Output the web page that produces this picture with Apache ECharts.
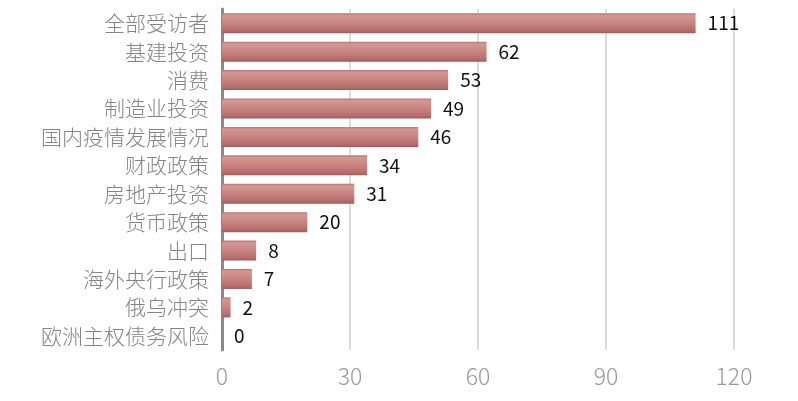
<!DOCTYPE html>
<html>
<head>
<meta charset="utf-8">
<script src="https://cdn.jsdelivr.net/npm/echarts@6/dist/echarts.min.js"></script>
<style>
  html, body { margin: 0; padding: 0; background: #fff; }
  #chart { width: 798px; height: 401px; }
</style>
</head>
<body>
<div id="chart"></div>
<script>
// 类别（从上到下）
var categories = ['全部受访者', '基建投资', '消费', '制造业投资', '国内疫情发展情况', '财政政策',
  '房地产投资', '货币政策', '出口', '海外央行政策', '俄乌冲突', '欧洲主权债务风险']
var values = [111, 62, 53, 49, 46, 34, 31, 20, 8, 7, 2, 0]
var xTicks = [0, 30, 60, 90, 120]

var font = '"Noto Sans CJK SC", "Noto Sans", sans-serif'
var myChart = echarts.init(document.getElementById('chart'))

// 木纹样的红色渐变（上下边缘略深）
var barColor = new echarts.graphic.LinearGradient(0, 0, 0, 1, [
  { offset: 0, color: '#b87472' },
  { offset: 0.12, color: '#d39894' },
  { offset: 0.5, color: '#c88380' },
  { offset: 0.88, color: '#b56c6a' },
  { offset: 1, color: '#9e5a59' }
])

myChart.setOption({
  animation: false,
  grid: { left: 222, right: 64, top: 9, bottom: 51, containLabel: false },
  xAxis: {
    type: 'value',
    min: xTicks[0],
    max: xTicks[xTicks.length - 1],
    interval: 30,
    axisLine: { show: false },
    axisTick: { show: false },
    splitLine: { lineStyle: { color: '#d0d0d0', width: 1.5 } },
    axisLabel: { color: '#9a9a9a', fontSize: 23, fontFamily: font, fontWeight: 300, margin: 15 }
  },
  yAxis: {
    type: 'category',
    inverse: true,
    data: categories,
    axisLine: { lineStyle: { color: '#8a8a8a', width: 3 } },
    axisTick: { show: false },
    axisLabel: { color: '#858585', fontSize: 21, fontFamily: font, fontWeight: 300, margin: 13 }
  },
  series: [{
    type: 'bar',
    data: values,
    barWidth: 20,
    itemStyle: { color: barColor },
    label: {
      show: true,
      position: 'right',
      distance: 12,
      color: '#111',
      fontSize: 19,
      fontFamily: font
    }
  }]
})
</script>
</body>
</html>
